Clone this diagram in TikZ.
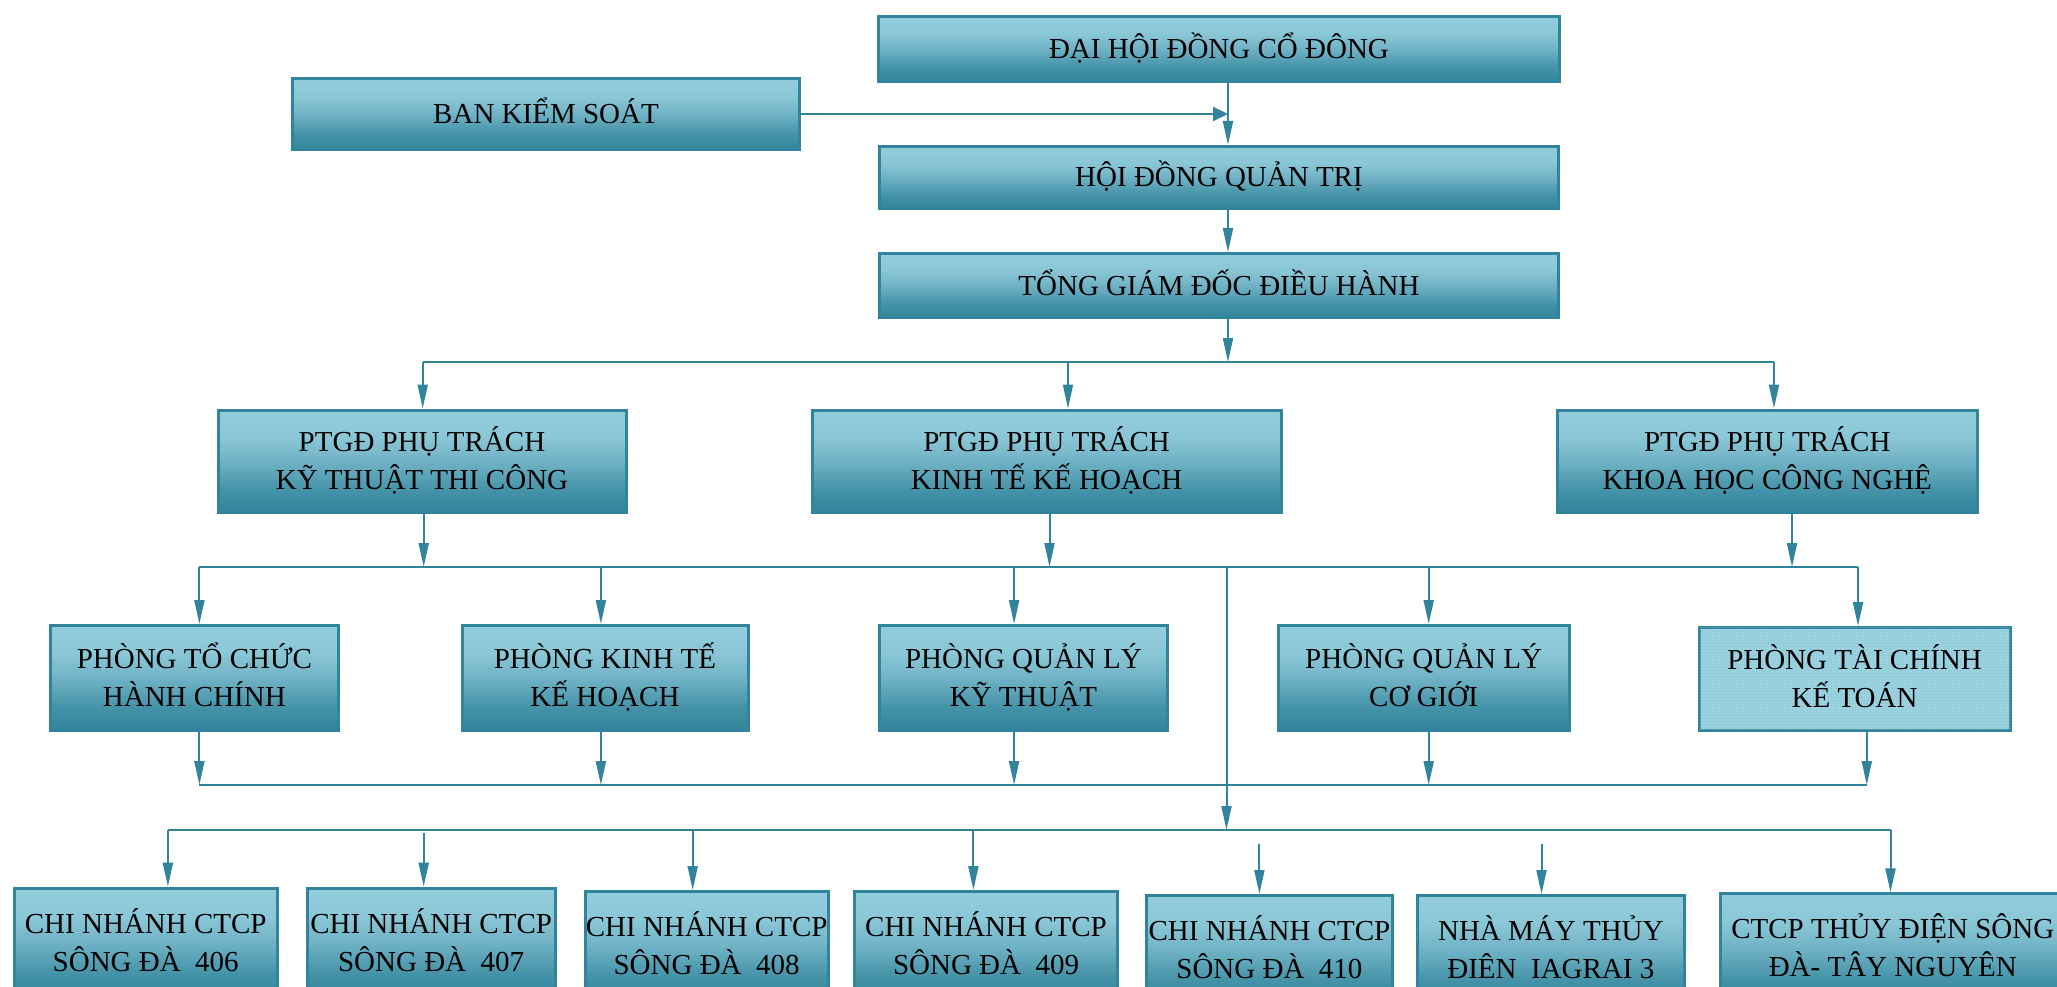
\documentclass[tikz,border=0pt]{standalone}
\usepackage{fontspec}
\setmainfont{Liberation Serif}
\usetikzlibrary{arrows.meta,patterns.meta}

\definecolor{tlight}{RGB}{146,205,220}
\definecolor{tmid}{RGB}{112,178,197}
\definecolor{tdark}{RGB}{49,132,155}
\definecolor{tline}{RGB}{49,132,155}

% light at the top, turning teal towards the bottom
\pgfdeclareverticalshading{boxshade}{100bp}{color(0bp)=(tdark); color(25bp)=(tdark); color(36bp)=(tdark!80!tlight); color(50bp)=(tmid); color(62bp)=(tlight!92!tdark); color(75bp)=(tlight); color(100bp)=(tlight)}

% line strut: every text line gets the same height and depth
\newcommand\lnst{\rule[-9.5pt]{0pt}{38pt}}

\tikzset{
  boxbase/.style={draw=tline, line width=3pt, inner sep=0pt, align=center,
    font=\fontsize{29}{38}\selectfont, text=black, anchor=north west},
  box/.style={boxbase, shade, shading=boxshade},
  dotbox/.style={boxbase, fill=tlight,
    postaction={pattern color=white!55!tlight, pattern={Dots[distance=3pt,radius=0.6pt]}}},
  conn/.style={draw=tline, line width=2pt},
  arr/.style={conn, -{Triangle[length=24pt,width=10pt]}},
  harr/.style={conn, -{Triangle[length=15pt,width=14pt]}},
}

% \orgbox[style]{name}{x1}{y1}{x2}{y2}{text}
\newcommand\orgbox[7][box]{\node[#1, minimum width=#5pt-#3pt, minimum height=#6pt-#4pt] (#2) at (#3,#4) {#7};}

\begin{document}
\begin{tikzpicture}[x=1pt,y=-1pt]
\useasboundingbox (0,0) rectangle (2057,987);
\clip (0,0) rectangle (2057,987);

% top levels
\orgbox{dh}{877}{15}{1558}{80}{\lnst ĐẠI HỘI ĐỒNG CỔ ĐÔNG}
\orgbox{bks}{291}{77}{798}{148}{\lnst BAN KIỂM SOÁT}
\orgbox{hd}{878}{145}{1557}{207}{\lnst HỘI ĐỒNG QUẢN TRỊ}
\orgbox{tgd}{878}{252}{1557}{316}{\lnst TỔNG GIÁM ĐỐC ĐIỀU HÀNH}

% deputy directors
\orgbox{p1}{216.5}{408.5}{624.5}{511}{\lnst PTGĐ PHỤ TRÁCH\\\lnst KỸ THUẬT THI CÔNG}
\orgbox{p2}{810.6}{408.5}{1279.5}{511}{\lnst PTGĐ PHỤ TRÁCH\\\lnst KINH TẾ KẾ HOẠCH}
\orgbox{p3}{1555.5}{408.5}{1976}{511}{\lnst PTGĐ PHỤ TRÁCH\\\lnst KHOA HỌC CÔNG NGHỆ}

% departments
\orgbox{ph1}{48.5}{624}{337.2}{729}{\lnst PHÒNG TỔ CHỨC\\\lnst HÀNH CHÍNH}
\orgbox{ph2}{460.5}{624}{746.5}{729}{\lnst PHÒNG KINH TẾ\\\lnst KẾ HOẠCH}
\orgbox{ph3}{877.7}{624}{1166.3}{729}{\lnst PHÒNG QUẢN LÝ\\\lnst KỸ THUẬT}
\orgbox{ph4}{1276.5}{624}{1567.7}{729}{\lnst PHÒNG QUẢN LÝ\\\lnst CƠ GIỚI}
\orgbox[dotbox]{ph5}{1697.6}{626}{2008.5}{729}{\lnst PHÒNG TÀI CHÍNH\\\lnst KẾ TOÁN}

% branches and units
\orgbox{c1}{13}{886.7}{275.5}{995.7}{\lnst CHI NHÁNH CTCP\\\lnst SÔNG ĐÀ~~406}
\orgbox{c2}{305.7}{886.7}{553.6}{995.7}{\lnst CHI NHÁNH CTCP\\\lnst SÔNG ĐÀ~~407}
\orgbox{c3}{583.8}{890}{826.5}{999}{\lnst CHI NHÁNH CTCP\\\lnst SÔNG ĐÀ~~408}
\orgbox{c4}{852.7}{890}{1116.4}{999}{\lnst CHI NHÁNH CTCP\\\lnst SÔNG ĐÀ~~409}
\orgbox{c5}{1145.3}{894}{1390.6}{1003}{\lnst CHI NHÁNH CTCP\\\lnst SÔNG ĐÀ~~410}
\orgbox{c6}{1415.5}{894}{1683.2}{1003}{\lnst NHÀ MÁY THỦY\\\lnst ĐIÊN~~IAGRAI 3}
\orgbox{c7}{1718.6}{892.3}{2064}{1001.3}{\lnst CTCP THỦY ĐIỆN SÔNG\\\lnst ĐÀ- TÂY NGUYÊN}

% main spine and the top arrows
\coordinate (sp) at (1228,0);
\coordinate (sp2) at (1226.5,0);
\draw[arr] (sp |- dh.south) -- (sp |- hd.north);
\draw[harr] (bks.east) -- (sp |- bks.east);
\draw[arr] (sp |- hd.south) -- (sp |- tgd.north);

% bus to the deputy directors
\coordinate (b1L) at (422.7,362);
\coordinate (b1R) at (1774,362);
\coordinate (b1M) at (1068,362);
\draw[arr] (sp |- tgd.south) -- (sp |- b1L);
\draw[conn] (b1L) -- (b1R);
\draw[arr] (b1L) -- (b1L |- p1.north);
\draw[arr] (b1M) -- (b1M |- p2.north);
\draw[arr] (b1R) -- (b1R |- p3.north);

% bus to the departments
\coordinate (b2L) at (199.4,567);
\coordinate (b2R) at (1858,567);
\coordinate (u1) at (423.7,567);
\coordinate (u2) at (1049.5,567);
\coordinate (u3) at (1792,567);
\draw[arr] (u1 |- p1.south) -- (u1);
\draw[arr] (u2 |- p2.south) -- (u2);
\draw[arr] (u3 |- p3.south) -- (u3);
\draw[conn] (b2L) -- (b2R);
\coordinate (k2) at (600.9,567);
\coordinate (k3) at (1014.1,567);
\coordinate (k4) at (1428.7,567);
\draw[arr] (b2L) -- (b2L |- ph1.north);
\draw[arr] (k2) -- (k2 |- ph2.north);
\draw[arr] (k3) -- (k3 |- ph3.north);
\draw[arr] (k4) -- (k4 |- ph4.north);
\draw[arr] (b2R) -- (b2R |- ph5.north);

% departments down to their common line
\coordinate (v1) at (199.4,785);
\coordinate (v2) at (600.9,785);
\coordinate (v3) at (1014.1,785);
\coordinate (v4) at (1428.7,785);
\coordinate (v5) at (1866.8,785);
\draw[arr] (v1 |- ph1.south) -- (v1);
\draw[arr] (v2 |- ph2.south) -- (v2);
\draw[arr] (v3 |- ph3.south) -- (v3);
\draw[arr] (v4 |- ph4.south) -- (v4);
\draw[arr] (v5 |- ph5.south) -- (v5);
\draw[conn] (v1) -- (v5);

% bus to the branches
\coordinate (b4L) at (167.9,830);
\coordinate (b4R) at (1890.5,830);
\draw[arr] (sp2 |- b2L) -- (sp2 |- b4L);
\draw[conn] (b4L) -- (b4R);
\coordinate (w2) at (423.7,833);
\coordinate (w3) at (692.7,830);
\coordinate (w4) at (973.4,830);
\coordinate (w5) at (1259.4,844);
\coordinate (w6) at (1541.5,844);
\draw[arr] (b4L) -- (b4L |- c1.north);
\draw[arr] (w2) -- (w2 |- c2.north);
\draw[arr] (w3) -- (w3 |- c3.north);
\draw[arr] (w4) -- (w4 |- c4.north);
\draw[arr] (w5) -- (w5 |- c5.north);
\draw[arr] (w6) -- (w6 |- c6.north);
\draw[arr] (b4R) -- (b4R |- c7.north);
\end{tikzpicture}
\end{document}
